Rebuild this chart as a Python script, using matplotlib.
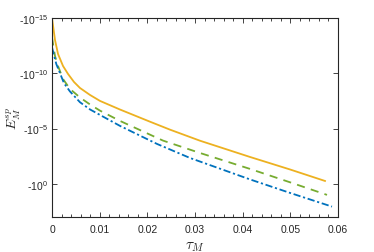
import matplotlib
matplotlib.use("Agg")
import matplotlib.pyplot as plt
import numpy as np
from matplotlib.ticker import FixedLocator, FuncFormatter, MultipleLocator

# tau_M values and E_M^sp values (negative)
tau_y = [0.0, 0.00063, 0.00126, 0.00231, 0.00336, 0.00462, 0.00587, 0.00797,
         0.01007, 0.01427, 0.02056, 0.02476, 0.03105, 0.04154, 0.04993, 0.05727]
E_y = [-1e-15, -10**-13.01, -10**-11.75, -10**-10.66, -10**-9.94, -10**-9.21,
       -10**-8.67, -10**-8.04, -10**-7.50, -10**-6.72, -10**-5.62, -10**-4.90,
       -10**-3.90, -10**-2.43, -10**-1.30, -10**-0.26]

tau_g = [0.0, 0.00063, 0.00126, 0.00231, 0.00378, 0.00587, 0.00797, 0.01007,
         0.01427, 0.02329, 0.03105, 0.04154, 0.04993, 0.05769]
E_g = [-10**-13.24, -10**-11.56, -10**-10.66, -10**-9.48, -10**-8.58, -10**-7.81,
       -10**-7.18, -10**-6.62, -10**-5.69, -10**-3.91, -10**-2.79, -10**-1.35,
       -10**-0.14, -10**1.00]

tau_b = [0.0, 0.0009, 0.00252, 0.00378, 0.00587, 0.00797, 0.01007, 0.01427,
         0.02203, 0.02895, 0.04154, 0.04993, 0.05874]
E_b = [-10**-12.35, -10**-10.84, -10**-9.10, -10**-8.35, -10**-7.38, -10**-6.73,
       -10**-6.23, -10**-5.24, -10**-3.61, -10**-2.34, -10**-0.40, -10**0.82,
       -10**2.06]

x_ticks = [0, 0.01, 0.02, 0.03, 0.04, 0.05, 0.06]
x_ticklabels = ["0", "0.01", "0.02", "0.03", "0.04", "0.05", "0.06"]
y_exps = [-15, -10, -5, 0]

plt.rcParams['font.family'] = ['Liberation Sans', 'DejaVu Sans']
plt.rcParams['mathtext.fontset'] = 'custom'
plt.rcParams['mathtext.rm'] = 'Liberation Sans'
plt.rcParams['mathtext.it'] = 'Liberation Sans:italic'

fig = plt.figure(figsize=(3.74, 2.53), dpi=100)
ax = fig.add_axes([52/374, 35/253, 286/374, 199/253])

ax.plot(tau_y, -np.array(E_y), color='#EDB120', lw=1.3, ls='-')
ax.plot(tau_g, -np.array(E_g), color='#77AC30', lw=1.3, ls=(0, (4.5, 3.5)))
ax.plot(tau_b, -np.array(E_b), color='#0072BD', lw=1.3, ls=(0, (4, 1.5, 1.2, 1.5)))

ax.set_yscale('log')
ax.set_ylim(1e3, 1e-15)
ax.set_xlim(0, 0.06)

ax.xaxis.set_major_locator(FixedLocator(x_ticks))
ax.set_xticklabels(x_ticklabels)
ax.xaxis.set_minor_locator(MultipleLocator(0.002))
ax.yaxis.set_major_locator(FixedLocator([10.0**e for e in y_exps]))
ax.yaxis.set_minor_locator(FixedLocator([]))
ax.yaxis.set_major_formatter(FuncFormatter(lambda v, p: r'-10$^{%d}$' % int(round(np.log10(v)))))

gray = '#262626'
ax.tick_params(which='both', direction='in', top=True, right=True, colors=gray,
               labelsize=7.5, width=0.6)
ax.tick_params(which='major', length=3.5)
ax.tick_params(which='minor', length=2)
ax.tick_params(axis='x', pad=5)
ax.tick_params(axis='y', pad=3)
for s in ax.spines.values():
    s.set_color(gray)
    s.set_linewidth(0.8)

ax.set_xlabel(r'$\tau_M$', fontsize=11, math_fontfamily='cm', color=gray)
ax.xaxis.set_label_coords(0.5, -0.11)
ax.set_ylabel(r'$E_M^{sp}$', fontsize=10, math_fontfamily='cm', color=gray)
ax.yaxis.set_label_coords(-0.10, 0.5)

fig.savefig('out.png', dpi=100)
